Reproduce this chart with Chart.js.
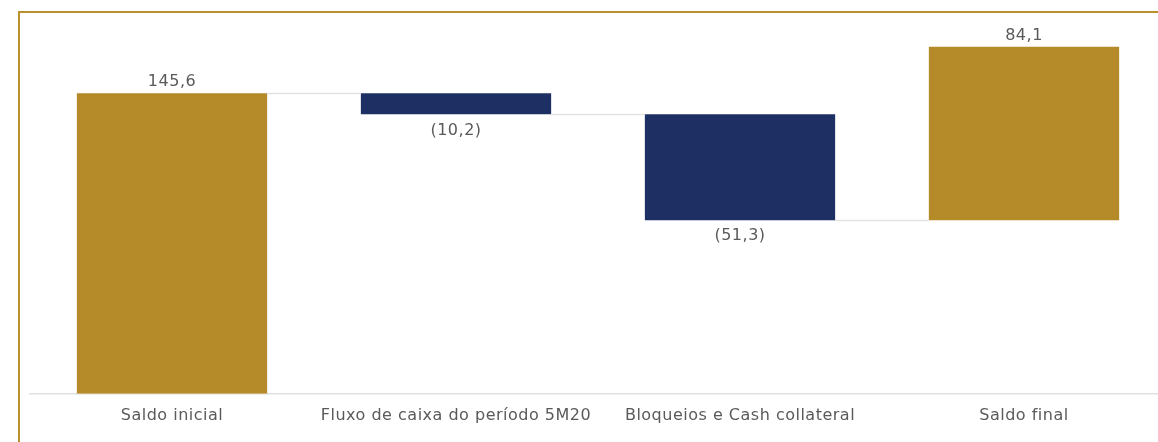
<!DOCTYPE html>
<html>
<head>
<meta charset="utf-8">
<script src="https://cdn.jsdelivr.net/npm/chart.js@4.4.0/dist/chart.umd.min.js"></script>
<style>
  html, body { margin: 0; padding: 0; background: #fff; overflow: hidden; }
  #wrap { position: relative; width: 1158px; height: 442px; overflow: hidden; }
  #frame { position: absolute; left: 18px; top: 11px; width: 1200px; height: 500px;
           border-top: 2px solid #B8912E; border-left: 2px solid #B8912E; box-sizing: border-box; }
  #cv { position: absolute; left: 0; top: 0; }
</style>
</head>
<body>
<div id="wrap">
  <div id="frame"></div>
  <canvas id="cv" width="1170" height="442" style="width:1170px;height:442px"></canvas>
</div>
<script>
const categories = ['Saldo inicial', 'Fluxo de caixa do período 5M20', 'Bloqueios e Cash collateral', 'Saldo final'];
const changes = [145.6, -10.2, -51.3, 84.1];
const valueLabels = ['145,6', '(10,2)', '(51,3)', '84,1'];
const barColors = ['#B58A28', '#1E2F63', '#1E2F63', '#B58A28'];

const ranges = [];
let run = 0;
for (const c of changes) { ranges.push([run, run + c]); run += c; }

const FONT = '"DejaVu Sans", "Open Sans", sans-serif';

const waterfallPlugin = {
  id: 'waterfall',
  beforeLayout(chart) { chart.ctx.letterSpacing = '0.5px'; },
  beforeDraw(chart) { chart.ctx.letterSpacing = '0.5px'; },
  afterDatasetsDraw(chart) {
    const ctx = chart.ctx;
    const meta = chart.getDatasetMeta(0);
    const y = chart.scales.y;
    ctx.save();
    ctx.strokeStyle = '#e3e3e3';
    ctx.lineWidth = 1.5;
    for (let i = 0; i < meta.data.length - 1; i++) {
      const a = meta.data[i], b = meta.data[i + 1];
      const level = ranges[i][1];
      const py = Math.round(y.getPixelForValue(level)) + 0.5;
      ctx.beginPath();
      ctx.moveTo(a.x + a.width / 2, py);
      ctx.lineTo(b.x - b.width / 2, py);
      ctx.stroke();
    }
    ctx.fillStyle = '#5a5a5a';
    ctx.font = '16px ' + FONT;
    ctx.textAlign = 'center';
    ctx.textBaseline = 'middle';
    meta.data.forEach((bar, i) => {
      const top = y.getPixelForValue(Math.max(...ranges[i]));
      const bot = y.getPixelForValue(Math.min(...ranges[i]));
      if (changes[i] >= 0) {
        ctx.fillText(valueLabels[i], bar.x, top - 11);
      } else {
        ctx.fillText(valueLabels[i], bar.x, bot + 16);
      }
    });
    ctx.restore();
  }
};

new Chart(document.getElementById('cv'), {
  type: 'bar',
  data: {
    labels: categories,
    datasets: [{
      data: ranges,
      backgroundColor: barColors,
      borderWidth: 0,
      categoryPercentage: 1.0,
      barPercentage: 0.67
    }]
  },
  options: {
    responsive: false,
    animation: false,
    layout: { padding: { left: 30, right: 4, top: 12, bottom: 13 } },
    plugins: { legend: { display: false }, tooltip: { enabled: false } },
    scales: {
      x: {
        grid: { display: false },
        border: { display: true, color: '#e0e0e0', width: 1.5 },
        ticks: { color: '#5a5a5a', font: { family: FONT, size: 16 }, padding: 4, maxRotation: 0 }
      },
      y: { display: false, min: 0, max: 185 }
    }
  },
  plugins: [waterfallPlugin]
});
</script>
</body>
</html>
